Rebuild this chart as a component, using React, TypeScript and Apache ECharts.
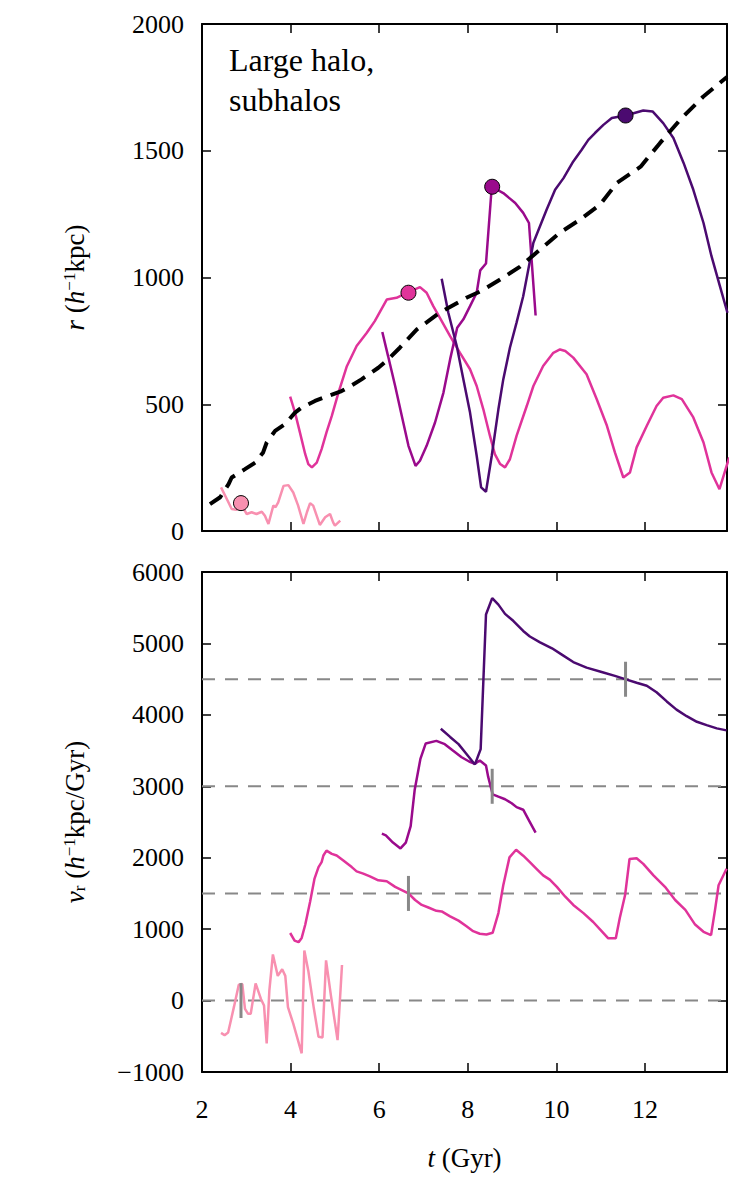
import React, { useEffect, useRef } from "react";
import * as echarts from "echarts";

// ---------- data ----------
const xMin = 2;
const xMax = 13.85;

// host halo radius (dashed black)
const hostT = [2.18, 2.41, 2.6, 2.67, 2.97, 3.2, 3.38, 3.46, 3.65, 3.87, 4.1, 4.25, 4.55, 4.85, 5.15, 5.3, 5.6, 5.98, 6.2, 6.47, 6.85, 7.37, 7.98, 8.28, 8.73, 9.18, 9.63, 10.08, 10.53, 10.98, 11.37, 11.9, 12.34, 12.79, 13.31, 13.85];
const hostR = [106, 133, 185, 211, 244, 270, 310, 349, 395, 421, 467, 487, 513, 533, 552, 566, 598, 644, 677, 724, 795, 862, 921, 945, 992, 1043, 1110, 1177, 1228, 1287, 1374, 1437, 1531, 1622, 1713, 1791];

// subhalo 1 (light pink)
const s1T = [2.43, 2.56, 2.67, 2.78, 2.88, 3.01, 3.12, 3.23, 3.35, 3.42, 3.5, 3.61, 3.66, 3.72, 3.84, 3.95, 4.06, 4.17, 4.29, 4.37, 4.44, 4.51, 4.59, 4.66, 4.78, 4.89, 4.96, 5.0, 5.12];
const s1R = [172, 126, 87, 84, 105, 67, 74, 67, 76, 60, 28, 100, 94, 113, 178, 181, 152, 100, 28, 75, 110, 100, 60, 24, 54, 67, 34, 21, 41];
// subhalo 2 (pink)
const s2T = [3.99, 4.1, 4.21, 4.33, 4.4, 4.48, 4.59, 4.7, 4.81, 4.93, 5.08, 5.27, 5.49, 5.72, 5.9, 6.17, 6.39, 6.66, 6.92, 7.07, 7.22, 7.37, 7.6, 7.82, 8.05, 8.2, 8.35, 8.5, 8.61, 8.73, 8.84, 8.95, 9.1, 9.33, 9.48, 9.7, 9.93, 10.08, 10.2, 10.38, 10.68, 10.91, 11.14, 11.32, 11.51, 11.66, 11.81, 12.04, 12.26, 12.41, 12.64, 12.83, 13.09, 13.32, 13.5, 13.68, 13.9];
const s2R = [530, 467, 389, 303, 264, 251, 270, 323, 389, 454, 546, 650, 730, 782, 828, 913, 920, 942, 962, 940, 887, 841, 769, 704, 638, 572, 480, 375, 303, 264, 251, 283, 375, 493, 572, 651, 703, 716, 710, 684, 618, 520, 415, 310, 211, 231, 330, 415, 493, 526, 535, 520, 448, 349, 231, 165, 290];
// subhalo 3 (magenta)
const s3T = [6.07, 6.2, 6.36, 6.51, 6.66, 6.82, 6.92, 7.07, 7.26, 7.45, 7.6, 7.76, 7.9, 8.05, 8.2, 8.28, 8.41, 8.54, 8.8, 9.07, 9.25, 9.38, 9.53];
const s3R = [785, 690, 572, 454, 336, 257, 277, 336, 428, 546, 677, 802, 835, 887, 940, 1028, 1055, 1358, 1333, 1294, 1255, 1215, 850];
// subhalo 4 (dark purple)
const s4T = [7.41, 7.56, 7.75, 7.9, 8.05, 8.2, 8.3, 8.41, 8.54, 8.69, 8.8, 8.95, 9.1, 9.25, 9.48, 9.78, 9.97, 10.16, 10.38, 10.57, 10.72, 10.87, 11.06, 11.25, 11.56, 11.74, 11.96, 12.17, 12.41, 12.64, 12.87, 13.09, 13.32, 13.5, 13.69, 13.86];
const s4R = [995, 861, 730, 598, 467, 297, 172, 155, 297, 480, 598, 723, 822, 926, 1137, 1268, 1346, 1392, 1458, 1504, 1543, 1570, 1602, 1629, 1639, 1648, 1659, 1655, 1609, 1550, 1452, 1346, 1215, 1084, 966, 861];

// marked apocentre times and radii
const markT = [2.88, 6.66, 8.55, 11.56];
const markR = [110, 940, 1358, 1639];

// radial velocities, shown shifted by vOffsets
const vOffsets = [0, 1500, 3000, 4500];
const v1T = [2.43, 2.51, 2.59, 2.72, 2.83, 2.91, 2.97, 3.04, 3.1, 3.21, 3.33, 3.4, 3.46, 3.52, 3.6, 3.71, 3.81, 3.88, 3.94, 4.06, 4.25, 4.31, 4.4, 4.52, 4.63, 4.72, 4.8, 4.91, 5.06, 5.16];
const v1 = [-452, -485, -448, -92, 222, 231, -115, -185, -185, 240, 23, -69, -600, 138, 646, 346, 438, 346, -92, -323, -738, 701, 415, -92, -508, -517, 563, 69, -554, 498];
const v2T = [3.99, 4.09, 4.18, 4.25, 4.33, 4.44, 4.54, 4.63, 4.7, 4.74, 4.81, 4.93, 5.04, 5.19, 5.38, 5.49, 5.64, 5.79, 5.98, 6.17, 6.36, 6.51, 6.66, 6.81, 6.96, 7.11, 7.29, 7.41, 7.6, 7.79, 7.97, 8.12, 8.27, 8.42, 8.56, 8.69, 8.8, 8.94, 9.09, 9.25, 9.4, 9.55, 9.7, 9.85, 10.01, 10.2, 10.38, 10.61, 10.83, 11.02, 11.17, 11.34, 11.43, 11.55, 11.65, 11.81, 11.96, 12.19, 12.45, 12.68, 12.91, 13.13, 13.32, 13.49, 13.58, 13.66, 13.84];
const v2 = [-554, -660, -683, -623, -439, -115, 208, 369, 438, 531, 600, 554, 531, 462, 369, 309, 277, 239, 184, 170, 92, 46, 0, -92, -161, -197, -243, -252, -321, -381, -459, -528, -565, -574, -551, -275, 115, 505, 611, 528, 437, 345, 253, 193, 92, -46, -161, -276, -400, -528, -629, -629, -344, -23, 482, 492, 414, 253, 92, -92, -230, -436, -537, -583, -230, 115, 345];
const v3T = [6.06, 6.15, 6.31, 6.48, 6.6, 6.71, 6.8, 6.93, 7.05, 7.29, 7.48, 7.67, 7.86, 8.03, 8.16, 8.27, 8.41, 8.46, 8.56, 8.69, 8.84, 8.99, 9.1, 9.25, 9.37, 9.53];
const v3 = [-664, -687, -788, -870, -788, -558, -53, 384, 600, 636, 590, 498, 407, 347, 315, 361, 292, 131, -112, -145, -181, -237, -292, -328, -466, -650];
const v4T = [7.39, 7.6, 7.79, 7.97, 8.16, 8.29, 8.41, 8.55, 8.69, 8.84, 9.03, 9.25, 9.4, 9.63, 9.9, 10.13, 10.38, 10.68, 11.02, 11.32, 11.55, 11.81, 12.04, 12.26, 12.49, 12.71, 12.94, 13.17, 13.39, 13.62, 13.84];
const v4 = [-694, -809, -910, -1047, -1194, -979, 905, 1135, 1043, 914, 813, 675, 597, 515, 432, 340, 239, 161, 101, 46, 0, -51, -92, -184, -312, -427, -519, -597, -643, -689, -717];
const markHalf = 245;

const colors = ["#f890b0", "#e0339a", "#9a0a8c", "#4b0a70"];

const FONT = "Liberation Serif";

const pairs = (a: number[], b: number[], off = 0) => a.map((x, i) => [x, b[i] + off]);

function App() {
  const ref = useRef<HTMLDivElement>(null);
  useEffect(() => {
    if (!ref.current) return;
    const chart = echarts.init(ref.current, undefined, { renderer: "svg" });

    const frame = { lineStyle: { color: "#000", width: 2 } };
    const tick = { inside: true, length: 9, lineStyle: { color: "#000", width: 1.5 } };
    const label = { color: "#000", fontFamily: FONT, fontSize: 26, showMaxLabel: false };
    const xFmt = (v: number) => (Number.isInteger(v) ? String(v) : "");
    const yFmt = (v: number) => (v < 0 ? "\u2212" + Math.abs(v) : String(v));
    const nameStyle = {
      color: "#000",
      fontFamily: FONT,
      fontSize: 27,
      rich: {
        n: { fontFamily: FONT, fontSize: 27, color: "#000" },
        i: { fontStyle: "italic", fontFamily: FONT, fontSize: 27, color: "#000" },
        sup: { fontFamily: FONT, fontSize: 17, verticalAlign: "top", color: "#000" },
        sub: { fontFamily: FONT, fontSize: 17, verticalAlign: "bottom", color: "#000" },
      },
    };

    const mkX = (grid: number, pos: string, show: boolean) => ({
      gridIndex: grid,
      type: "value",
      position: pos,
      min: xMin,
      max: xMax,
      interval: 2,
      axisLine: { onZero: false, ...frame },
      axisTick: tick,
      splitLine: { show: false },
      axisLabel: { ...label, show, margin: 24, formatter: xFmt },
    });
    const mkY = (grid: number, pos: string, min: number, max: number, interval: number, show: boolean) => ({
      gridIndex: grid,
      type: "value",
      position: pos,
      min,
      max,
      interval,
      axisLine: { onZero: false, ...frame },
      axisTick: tick,
      splitLine: { show: false },
      axisLabel: { ...label, show, margin: 18, formatter: yFmt, showMaxLabel: true },
    });

    const lineS = (data: number[][], color: string, xi: number, yi: number, width = 2.5, type: any = "solid", z = 2) => ({
      type: "line",
      xAxisIndex: xi,
      yAxisIndex: yi,
      data,
      symbol: "none",
      silent: true,
      z,
      lineStyle: { color, width, type },
    });

    const series: any[] = [];
    // top panel
    series.push(lineS(pairs(s1T, s1R), colors[0], 0, 0));
    series.push(lineS(pairs(s2T, s2R), colors[1], 0, 0));
    series.push(lineS(pairs(s3T, s3R), colors[2], 0, 0));
    series.push(lineS(pairs(s4T, s4R), colors[3], 0, 0));
    series.push(lineS(pairs(hostT, hostR), "#000", 0, 0, 4, [15, 9], 3));
    markT.forEach((t, i) => {
      series.push({
        type: "scatter",
        xAxisIndex: 0,
        yAxisIndex: 0,
        data: [[t, markR[i]]],
        symbol: "circle",
        symbolSize: 15,
        z: 5,
        silent: true,
        itemStyle: { color: colors[i], borderColor: "#000", borderWidth: 1, opacity: 1 },
      });
    });
    // bottom panel
    vOffsets.forEach((o) => {
      series.push(lineS([[xMin, o], [xMax, o]], "#888888", 2, 2, 2, [13, 10], 1));
    });
    series.push(lineS(pairs(v1T, v1, vOffsets[0]), colors[0], 2, 2));
    series.push(lineS(pairs(v2T, v2, vOffsets[1]), colors[1], 2, 2));
    series.push(lineS(pairs(v3T, v3, vOffsets[2]), colors[2], 2, 2));
    series.push(lineS(pairs(v4T, v4, vOffsets[3]), colors[3], 2, 2));
    markT.forEach((t, i) => {
      series.push(
        lineS([[t, vOffsets[i] - markHalf], [t, vOffsets[i] + markHalf]], "#888888", 2, 2, 3, "solid", 4)
      );
    });

    const option: any = {
      animation: false,
      backgroundColor: "#fff",
      grid: [
        { left: 202, top: 24, width: 525, height: 507 },
        { left: 202, top: 572, width: 525, height: 500 },
      ],
      xAxis: [
        mkX(0, "bottom", false),
        mkX(0, "top", false),
        {
          ...mkX(1, "bottom", true),
          name: "{i|t}{n| (Gyr)}",
          nameLocation: "middle",
          nameGap: 72,
          nameTextStyle: nameStyle,
        },
        mkX(1, "top", false),
      ],
      yAxis: [
        {
          ...mkY(0, "left", 0, 2000, 500, true),
          name: "{i|r}{n| (}{i|h}{sup|\u22121}{n|kpc)}",
          nameLocation: "middle",
          nameGap: 114,
          nameTextStyle: nameStyle,
        },
        mkY(0, "right", 0, 2000, 500, false),
        {
          ...mkY(1, "left", -1000, 6000, 1000, true),
          name: "{i|v}{sub|r}{n| (}{i|h}{sup|\u22121}{n|kpc/Gyr)}",
          nameLocation: "middle",
          nameGap: 114,
          nameTextStyle: nameStyle,
        },
        mkY(1, "right", -1000, 6000, 1000, false),
      ],
      graphic: [
        {
          type: "text",
          left: 229,
          top: 40,
          style: {
            text: "Large halo,\nsubhalos",
            font: "32px Liberation Serif",
            fill: "#000",
            lineHeight: 40,
          },
        },
      ],
      series,
    };
    chart.setOption(option);
    return () => chart.dispose();
  }, []);
  return (
    <div
      ref={ref}
      style={{ position: "fixed", left: 0, top: 0, width: 750, height: 1200, background: "#fff" }}
    />
  );
}

export default App;
